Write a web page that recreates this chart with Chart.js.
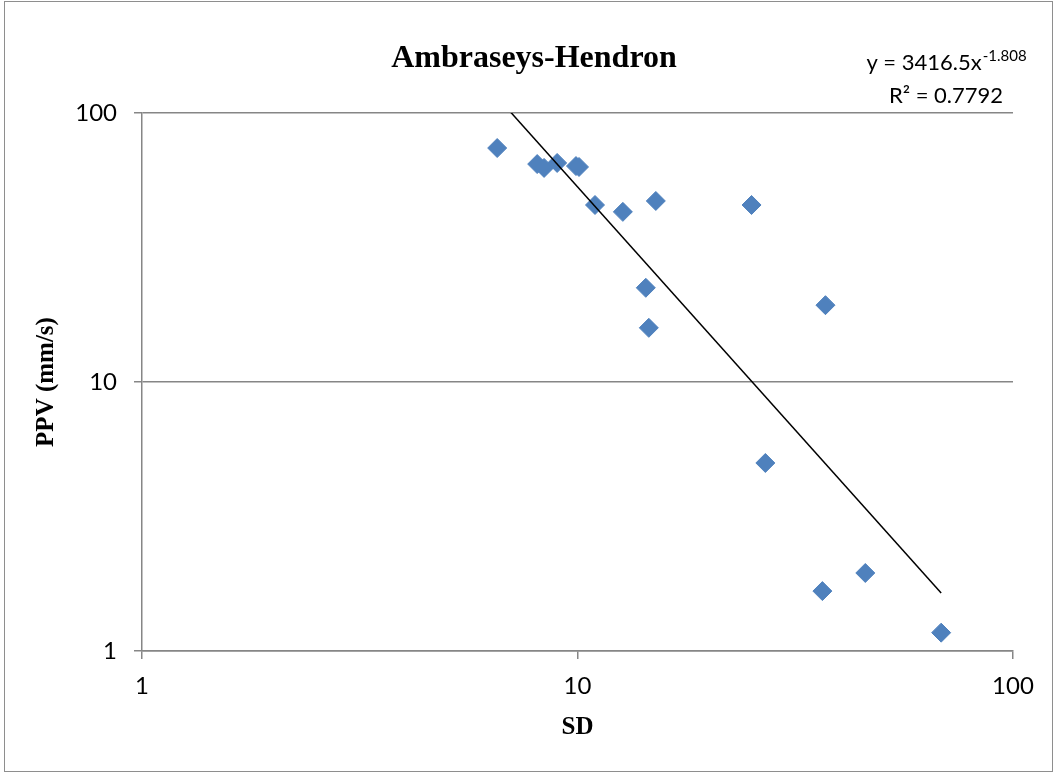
<!DOCTYPE html>
<html>
<head>
<meta charset="utf-8">
<title>Ambraseys-Hendron</title>
<script src="https://cdn.jsdelivr.net/npm/chart.js@4.4.1/dist/chart.umd.min.js"></script>
<style>
  html, body { margin: 0; padding: 0; background: #fff; }
  #wrap { position: relative; width: 1054px; height: 773px; }
  #frame {
    position: absolute; left: 4px; top: 1px; width: 1047px; height: 769px;
    border: 1px solid #8e8e8e; pointer-events: none;
  }
  canvas { position: absolute; left: 0; top: 0; }
</style>
</head>
<body>
<div id="wrap">
  <canvas id="chart" width="1054" height="773"></canvas>
  <div id="frame"></div>
</div>
<script>
// Scaled distance (SD) vs peak particle velocity (mm/s)
const sdValues = [6.54, 8.08, 8.38, 8.98, 9.92, 10.08, 10.97, 12.71, 15.13, 25.1, 14.35, 14.58, 37.1, 27.0, 36.5, 45.8, 68.4];
const ppvValues = [74.1, 64.6, 62.5, 65.2, 63.5, 63.0, 45.5, 42.9, 47.1, 45.5, 22.4, 15.9, 19.3, 5.0, 1.67, 1.95, 1.17];

// Power trendline as printed on the chart
const trendA = 3416.5;
const trendB = -1.808;
const trendR2 = 0.7792;

const majorTicks = [1, 10, 100];
const chartTitle = 'Ambraseys-Hendron';

const points = sdValues.map((x, i) => ({ x: x, y: ppvValues[i] }));
const xMin = Math.min(...sdValues);
const xMax = Math.max(...sdValues);
const trendPoints = [xMin, xMax].map(x => ({ x: x, y: trendA * Math.pow(x, trendB) }));

const axisGray = '#868686';
const tickFont = { family: 'Lato, "Open Sans", sans-serif', size: 24 };
const titleFont = { family: '"Liberation Serif", "Times New Roman", serif', size: 25, weight: 'bold' };

// Only the decade ticks are labelled, like the original
function keepDecades(scale) {
  scale.ticks = majorTicks.map(v => ({ value: v, major: true }));
}

// Title and trendline equation, placed like the spreadsheet did
const annotations = {
  id: 'annotations',
  afterDraw(chart) {
    const ctx = chart.ctx;
    ctx.save();
    ctx.fillStyle = '#000';
    ctx.textBaseline = 'alphabetic';

    ctx.font = 'bold 32px "Liberation Serif", "Times New Roman", serif';
    ctx.textAlign = 'center';
    ctx.fillText(chartTitle, 534, 67);

    const centerX = 946;
    const mainFont = '22px Lato, "Open Sans", sans-serif';
    const supFont = '15px Lato, "Open Sans", sans-serif';
    const mainText = 'y = ' + trendA + 'x';
    const supText = String(trendB);
    ctx.textAlign = 'left';
    ctx.font = mainFont;
    const w1 = ctx.measureText(mainText).width;
    ctx.font = supFont;
    const w2 = ctx.measureText(supText).width;
    const startX = centerX - (w1 + w2) / 2;
    ctx.font = mainFont;
    ctx.fillText(mainText, startX, 70);
    ctx.font = supFont;
    ctx.fillText(supText, startX + w1 + 1, 61);

    ctx.font = mainFont;
    ctx.textAlign = 'center';
    ctx.fillText('R\u00B2 = ' + trendR2, centerX, 103);
    ctx.restore();
  }
};

new Chart(document.getElementById('chart'), {
  type: 'scatter',
  data: {
    datasets: [
      {
        label: 'Power trend',
        data: trendPoints,
        showLine: true,
        borderColor: '#000',
        borderWidth: 1.5,
        pointRadius: 0,
        fill: false
      },
      {
        label: 'PPV',
        data: points,
        pointStyle: 'rectRot',
        pointRadius: 9.5,
        pointHoverRadius: 9.5,
        backgroundColor: '#4F81BD',
        borderColor: '#4F81BD',
        pointBorderWidth: 1
      }
    ]
  },
  options: {
    responsive: false,
    animation: false,
    layout: { padding: { left: 14, right: 41, top: 113, bottom: 0 } },
    plugins: {
      legend: { display: false },
      tooltip: { enabled: false },
      title: { display: false }
    },
    scales: {
      x: {
        type: 'logarithmic',
        min: 1,
        max: 100,
        afterBuildTicks: keepDecades,
        afterFit(scale) { scale.height = 122; },
        grid: { drawOnChartArea: false, drawTicks: true, tickLength: 8, color: axisGray, lineWidth: 1.5 },
        border: { color: axisGray, width: 1.5 },
        ticks: {
          color: '#000',
          font: tickFont,
          padding: 13,
          maxRotation: 0,
          callback: v => String(v)
        },
        title: { display: true, text: 'SD', color: '#000', font: titleFont, padding: { top: 0, bottom: 30 } }
      },
      y: {
        type: 'logarithmic',
        min: 1,
        max: 100,
        afterBuildTicks: keepDecades,
        afterFit(scale) { scale.width = 128; },
        grid: { drawOnChartArea: true, drawTicks: true, tickLength: 8, color: axisGray, lineWidth: 1.5 },
        border: { color: axisGray, width: 1.5 },
        ticks: {
          color: '#000',
          font: tickFont,
          padding: 17,
          callback: v => String(v)
        },
        title: { display: true, text: 'PPV (mm/s)', color: '#000', font: titleFont, padding: { top: 18, bottom: 0 } }
      }
    }
  },
  plugins: [annotations]
});
</script>
</body>
</html>
